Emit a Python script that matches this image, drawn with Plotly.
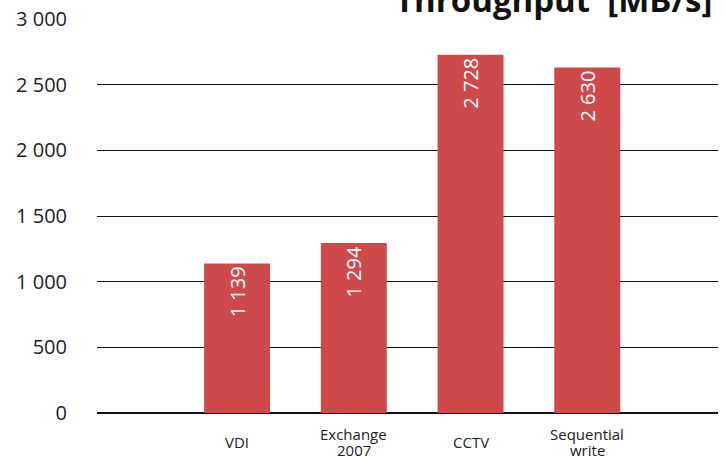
import plotly.graph_objects as go

categories = ["VDI", "Exchange<br>2007", "CCTV", "Sequential<br>write"]
throughput = [1139, 1294, 2728, 2630]
y_ticks = [0, 500, 1000, 1500, 2000, 2500, 3000]
title_text = "Throughput  [MB/s]"

xpos = list(range(len(categories)))

fig = go.Figure()
fig.add_trace(go.Bar(
    x=xpos,
    y=throughput,
    width=0.565,
    marker=dict(color="#CE4A4A", line=dict(width=0)),
    texttemplate="%{y:,}",
    textposition="inside",
    insidetextanchor="end",
    textangle=-90,
    textfont=dict(color="white", size=20, family="Open Sans"),
    cliponaxis=False,
    hoverinfo="skip",
))

annotations = [dict(
    text="<b>" + title_text + "</b>",
    xref="paper", yref="paper",
    x=1, y=1,
    xanchor="right", yanchor="bottom",
    xshift=-4, yshift=-5,
    showarrow=False,
    font=dict(size=33, color="#111", family="Open Sans"),
)]
line_gap = 16
for xi, cat in zip(xpos, categories):
    lines = cat.split("<br>")
    n = len(lines)
    for k, ln in enumerate(lines):
        offset = (k - (n - 1) / 2) * line_gap
        annotations.append(dict(
            text=ln, x=xi, xref="x", y=0, yref="paper",
            xanchor="center", yanchor="middle", yshift=-29 - offset,
            showarrow=False,
            font=dict(size=15, color="#222", family="Open Sans"),
        ))

fig.update_layout(
    width=726, height=457,
    margin=dict(l=97, r=8, t=19, b=44, autoexpand=False),
    plot_bgcolor="white", paper_bgcolor="white",
    separators=". ",
    showlegend=False,
    font=dict(family="Open Sans", color="#222"),
    xaxis=dict(
        range=[-1.2, 4.12],
        showgrid=False,
        zeroline=False,
        showline=False,
        showticklabels=False,
        ticks="",
        automargin=False,
    ),
    yaxis=dict(
        range=[0, 3000],
        tickvals=y_ticks,
        tickformat=",d",
        showgrid=True,
        gridcolor="#111",
        gridwidth=1,
        zeroline=True,
        zerolinecolor="#111",
        zerolinewidth=2,
        showline=False,
        ticks="",
        ticklabelstandoff=29,
        automargin=False,
        tickfont=dict(size=20, color="#222"),
    ),
    annotations=annotations,
)

fig.write_html(
    "out.html",
    config={"displayModeBar": False},
    post_script="document.body.style.margin='0';document.body.style.overflow='hidden';",
)
